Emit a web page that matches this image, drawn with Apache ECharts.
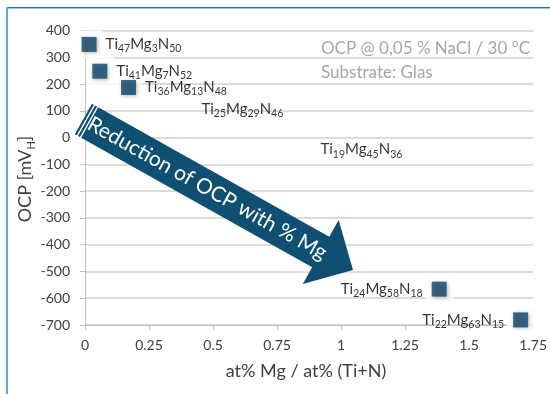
<!DOCTYPE html>
<html>
<head>
<meta charset="utf-8">
<script src="https://cdn.jsdelivr.net/npm/echarts@6/dist/echarts.min.js"></script>
<style>
html,body{margin:0;padding:0;background:#fff;}
#chart{width:550px;height:394px;}
</style>
</head>
<body>
<div id="chart"></div>
<script>
// ---- data ----
const tiAt = [47, 41, 36, 25, 19, 24, 22];
const mgAt = [3, 7, 13, 29, 45, 58, 63];
const nAt  = [50, 52, 48, 46, 36, 18, 15];
const mgRatio = [0.016, 0.058, 0.170, 0.39, 0.855, 1.383, 1.701];
const ocp = [348, 248, 187, 106, -45, -566, -681];
const xTickLabels = ['0', '0.25', '0.5', '0.75', '1', '1.25', '1.5', '1.75'];
const yTickLabels = ['400', '300', '200', '100', '0', '-100', '-200', '-300', '-400', '-500', '-600', '-700'];
const xTitle = 'at% Mg / at% (Ti+N)';
const yTitle = ['OCP [mV', 'H', ']'];
const noteLines = ['OCP @ 0,05 % NaCl / 30 °C', 'Substrate: Glas'];
const arrowText = 'Reduction of OCP with % Mg';

// ---- styling ----
const FONT = 'Lato, "Open Sans", sans-serif';
const hiddenMarkers = new Set([3, 4]);
const leftLabels = new Set([5, 6]);
const MARK = '#0c466c';
const ARROW = '#0e4f72';

const chart = echarts.init(document.getElementById('chart'), null, {renderer: 'canvas'});

const pts = mgRatio.map((x, i) => ({
  value: [x, ocp[i]],
  itemStyle: hiddenMarkers.has(i) ? {color: 'rgba(0,0,0,0)', shadowBlur: 0, shadowColor: 'rgba(0,0,0,0)'} : undefined,
  label: {
    show: true,
    position: leftLabels.has(i) ? 'left' : 'right',
    distance: 9,
    formatter: `{m|Ti}{s|${tiAt[i]}}{m|Mg}{s|${mgAt[i]}}{m|N}{s|${nAt[i]}}`,
    rich: {
      m: {fontSize: 15, fontFamily: FONT, color: '#000', lineHeight: 20, verticalAlign: 'middle'},
      s: {fontSize: 10.5, fontFamily: FONT, color: '#000', lineHeight: 20, verticalAlign: 'bottom'}
    }
  }
}));
const halos = mgRatio.map((x, i) => [x, ocp[i]]).filter((_, i) => !hiddenMarkers.has(i));

// arrow geometry (decoration, pixel space)
const T = [83.4, 119], ang = 29.25 * Math.PI / 180;
const u = [Math.cos(ang), Math.sin(ang)], n = [-Math.sin(ang), Math.cos(ang)];
const P = (s, w) => [T[0] + u[0] * s + n[0] * w, T[1] + u[1] * s + n[1] * w];
const halfW = 17.5, bodyLen = 272, tipLen = 309, headHalf = 36.7;
const arrowPts = [P(0, -halfW), P(bodyLen, -halfW), P(bodyLen, -headHalf), P(tipLen, 0),
  P(bodyLen, headHalf), P(bodyLen, halfW), P(0, halfW)];
const stripe = (a, b) => [P(a, -halfW - 0.5), P(b, -halfW - 0.5), P(b, halfW + 0.5), P(a, halfW + 0.5)];
const tc = P(142, 0);

const option = {
  animation: false,
  backgroundColor: '#fff',
  grid: {left: 85, top: 30.5, width: 449, height: 294.5},
  xAxis: {
    type: 'value', min: 0, max: 1.75, interval: 0.25,
    axisLine: {show: true, onZero: false, lineStyle: {color: '#bfbfbf', width: 1}},
    axisTick: {show: true, length: 5, lineStyle: {color: '#bfbfbf'}},
    splitLine: {show: false},
    axisLabel: {color: '#404040', fontSize: 14, fontFamily: FONT, margin: 13,
      formatter: v => xTickLabels[Math.round(v / 0.25)]}
  },
  yAxis: {
    type: 'value', min: -700, max: 400, interval: 100,
    axisLine: {show: true, lineStyle: {color: '#bfbfbf', width: 1}},
    axisTick: {show: true, length: 5, lineStyle: {color: '#bfbfbf'}},
    splitLine: {show: true, lineStyle: {color: '#d0d0d0', width: 1.5}},
    axisLabel: {color: '#404040', fontSize: 14, fontFamily: FONT, margin: 15,
      formatter: v => yTickLabels[Math.round((400 - v) / 100)]}
  },
  series: [
    {
      type: 'scatter', z: 1, silent: true, symbol: 'rect', symbolSize: 28,
      itemStyle: {color: '#fff'}, data: halos
    },
    {
      type: 'scatter', z: 3, symbol: 'rect', symbolSize: 15,
      itemStyle: {color: MARK, shadowBlur: 4, shadowColor: 'rgba(0,0,0,0.35)', shadowOffsetX: 1, shadowOffsetY: 1},
      data: pts
    }
  ],
  graphic: [
    {type: 'rect', shape: {x: 7, y: 7, width: 543, height: 1}, style: {fill: '#2f6fae'}, silent: true},
    {type: 'rect', shape: {x: 7, y: 8, width: 543, height: 1}, style: {fill: '#9cc4e6'}, silent: true},
    {type: 'rect', shape: {x: 6, y: 7, width: 2, height: 387}, style: {fill: '#6aa5d7'}, silent: true},
    {type: 'polygon', z: 100, shape: {points: arrowPts}, style: {fill: ARROW}, silent: true},
    {type: 'polygon', z: 101, shape: {points: stripe(2.2, 3.6)}, style: {fill: '#fff'}, silent: true},
    {type: 'polygon', z: 101, shape: {points: stripe(5.8, 7.2)}, style: {fill: '#fff'}, silent: true},
    {type: 'text', z: 102, x: tc[0], y: tc[1], rotation: -ang, silent: true,
      style: {text: arrowText, fill: '#fff', font: '21px ' + FONT, align: 'center', verticalAlign: 'middle',
        textAlign: 'center', textVerticalAlign: 'middle'}},
    {type: 'text', z: 50, x: 321, y: 48.5, silent: true,
      style: {text: noteLines[0], fill: '#a6a6a6', font: '17px ' + FONT, align: 'left', verticalAlign: 'middle',
        textAlign: 'left', textVerticalAlign: 'middle'}},
    {type: 'text', z: 50, x: 321, y: 72.5, silent: true,
      style: {text: noteLines[1], fill: '#a6a6a6', font: '17px ' + FONT, align: 'left', verticalAlign: 'middle',
        textAlign: 'left', textVerticalAlign: 'middle'}},
    {type: 'text', z: 50, x: 306, y: 371, silent: true,
      style: {text: xTitle, fill: '#404040', font: '18px ' + FONT, align: 'center', verticalAlign: 'middle',
        textAlign: 'center', textVerticalAlign: 'middle'}},
    {type: 'text', z: 50, x: 25, y: 179, rotation: Math.PI / 2, silent: true,
      style: {text: `{a|${yTitle[0]}}{s|${yTitle[1]}}{a|${yTitle[2]}}`, fill: '#404040',
        align: 'center', verticalAlign: 'middle', textAlign: 'center', textVerticalAlign: 'middle',
        rich: {
          a: {fontSize: 18, fontFamily: FONT, fill: '#404040', color: '#404040', lineHeight: 24, verticalAlign: 'middle'},
          s: {fontSize: 11, fontFamily: FONT, fill: '#404040', color: '#404040', lineHeight: 24, verticalAlign: 'bottom'}
        }}}
  ]
};
chart.setOption(option);
</script>
</body>
</html>
